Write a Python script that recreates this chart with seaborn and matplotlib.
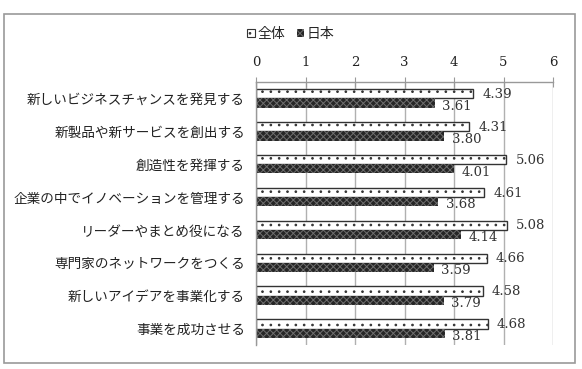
import matplotlib
matplotlib.use("Agg")
import matplotlib.pyplot as plt
import seaborn as sns
import pandas as pd
import numpy as np
from matplotlib.patches import Rectangle, Patch

categories = ["新しいビジネスチャンスを発見する", "新製品や新サービスを創出する", "創造性を発揮する",
              "企業の中でイノベーションを管理する", "リーダーやまとめ役になる", "専門家のネットワークをつくる",
              "新しいアイデアを事業化する", "事業を成功させる"]
series_names = ["全体", "日本"]
zentai = [4.39, 4.31, 5.06, 4.61, 5.08, 4.66, 4.58, 4.68]
nihon = [3.61, 3.80, 4.01, 3.68, 4.14, 3.59, 3.79, 3.81]
x_ticks = [0, 1, 2, 3, 4, 5, 6]

sns.set_style("white")
plt.rcParams['font.family'] = ['Noto Sans CJK JP', 'DejaVu Sans']
plt.rcParams['hatch.linewidth'] = 0.7

df = pd.DataFrame({
    "cat": categories * 2,
    "val": zentai + nihon,
    "series": [series_names[0]] * len(categories) + [series_names[1]] * len(categories),
})

fig = plt.figure(figsize=(5.82, 3.69), dpi=100)
fig.patches.append(Rectangle((4/582, 1-363/369), (575-4)/582, (363-14)/369, transform=fig.transFigure,
                             fill=False, edgecolor="#9a9a9a", linewidth=1.2))
ax = fig.add_axes([256/582, 1-345/369, (553-256)/582, (345-82)/369])

sns.barplot(data=df, y="cat", x="val", hue="series", orient="h", ax=ax,
            palette=["white", "#2e2e2e"], width=0.56, legend=False, saturation=1)

WHITE_STYLE = dict(facecolor="white", edgecolor="#333333", hatch="..")
DARK_STYLE = dict(facecolor="#262626", edgecolor="#6e6e6e", hatch="xxxxx")

n = len(categories)
for i, p in enumerate(ax.patches[:2*n]):
    if i < n:
        p.set_facecolor(WHITE_STYLE["facecolor"]); p.set_edgecolor(WHITE_STYLE["edgecolor"])
        p.set_hatch(WHITE_STYLE["hatch"]); p.set_linewidth(1.0)
    else:
        p.set_facecolor(DARK_STYLE["facecolor"]); p.set_edgecolor(DARK_STYLE["edgecolor"])
        p.set_hatch(DARK_STYLE["hatch"]); p.set_linewidth(0.0)

serif = "DejaVu Serif"
for i, p in enumerate(ax.patches[:2*n]):
    w = p.get_width(); yc = p.get_y() + p.get_height()/2
    if i < n:
        ax.text(w + 0.18, yc + 0.02, f"{w:.2f}", va="center", ha="left", fontsize=9.5,
                family=serif, color="#333333")
    else:
        ax.text(w + 0.15, yc + 0.1, f"{w:.2f}", va="center", ha="left", fontsize=9.5,
                family=serif, color="#333333")

ax.set_xlim(0, 6)
ax.set_xticks(x_ticks)
ax.set_xticklabels([str(t) for t in x_ticks], family=serif, fontsize=9.5)
ax.xaxis.tick_top()
ax.tick_params(axis="x", direction="inout", length=7, width=0.8, color="#999999", pad=6, labelcolor="#222222")
ax.grid(axis="x", color="#b0b0b0", linewidth=1.0)
ax.set_axisbelow(True)
ax.set_ylim(n - 0.5, -0.5)
ax.set_yticks(np.arange(n))
ax.set_yticklabels(categories, fontsize=9.8, color="#222222")
ax.set_yticks(np.arange(n + 1) - 0.5, minor=True)
ax.tick_params(axis="y", which="major", length=0, pad=8)
ax.tick_params(axis="y", which="minor", length=4, color="#999999", width=0.8)
ax.set_xlabel(""); ax.set_ylabel("")
for s in ["right", "bottom"]:
    ax.spines[s].set_visible(False)
for s in ["left", "top"]:
    ax.spines[s].set_color("#999999"); ax.spines[s].set_linewidth(1.0)

handles = [Patch(linewidth=0.8, **WHITE_STYLE), Patch(linewidth=0, **DARK_STYLE)]
fig.legend(handles, series_names, loc="center", bbox_to_anchor=(0.5, 1-34/369), ncol=2, frameon=False,
           fontsize=10, handlelength=0.55, handleheight=0.55, handletextpad=0.2, columnspacing=0.8)

fig.savefig("out.png", dpi=100)
